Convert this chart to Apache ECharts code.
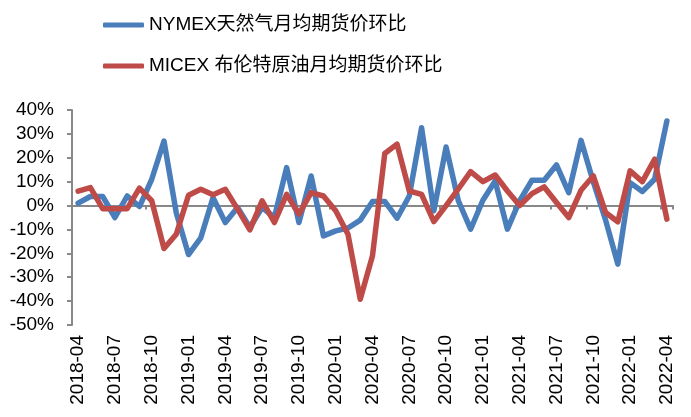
<!DOCTYPE html>
<html>
<head>
<meta charset="utf-8">
<script src="https://cdn.jsdelivr.net/npm/echarts@6/dist/echarts.min.js"></script>
<style>
  html, body { margin: 0; padding: 0; background: #fff; }
  #main { width: 691px; height: 417px; }
</style>
</head>
<body>
<div id="main"></div>
<script>
// 月份 2018-04 ~ 2022-04
var months = [
  '2018-04', '2018-05', '2018-06', '2018-07', '2018-08', '2018-09', '2018-10', '2018-11', '2018-12',
  '2019-01', '2019-02', '2019-03', '2019-04', '2019-05', '2019-06', '2019-07', '2019-08', '2019-09',
  '2019-10', '2019-11', '2019-12', '2020-01', '2020-02', '2020-03', '2020-04', '2020-05', '2020-06',
  '2020-07', '2020-08', '2020-09', '2020-10', '2020-11', '2020-12', '2021-01', '2021-02', '2021-03',
  '2021-04', '2021-05', '2021-06', '2021-07', '2021-08', '2021-09', '2021-10', '2021-11', '2021-12',
  '2022-01', '2022-02', '2022-03', '2022-04'
]

// 环比 (%)
var nymexGas = [
  1, 3.8, 3.8, -5, 4, -0.4, 11, 27, -3,
  -20.5, -13.5, 3.3, -7.1, -0.8, -9.2, -0.8, -5, 15.9,
  -7.1, 12.4, -12.7, -10.6, -9.4, -6.1, 1.7, 1.7, -5.3,
  4, 32.6, -2.2, 24.5, 2, -9.9, 2.2, 10.3, -9.9,
  2, 10.6, 10.6, 17, 5.4, 27.3, 10, -6, -24.5,
  9.6, 5.9, 11, 35.4
]
var micexBrent = [
  6, 7.5, -1.3, -1.3, -1.3, 7.3, 2, -18, -12,
  4.3, 6.8, 4.5, 6.8, -1.5, -10.2, 2, -7.1, 4.7,
  -3.6, 5.4, 4, -2.2, -12, -39.2, -21, 21.8, 25.7,
  6.1, 4.7, -6.7, 0, 7, 14.2, 10, 12.8, 6.1,
  0, 5, 7.8, 1.3, -5, 6.4, 12.4, -2.9, -6.8,
  14.5, 10, 19.4, -5.7
]

var yTicks = { min: -50, max: 40, step: 10 }

var seriesNames = ['NYMEX天然气月均期货价环比', 'MICEX 布伦特原油月均期货价环比']
var colors = ['#4A7EBB', '#BE4B48']

var axisGrey = '#888888'
var font = '"Liberation Sans", Arial, "Noto Sans CJK SC", sans-serif'

var chart = echarts.init(document.getElementById('main'))
chart.setOption({
  animation: false,
  color: colors,
  legend: {
    orient: 'vertical',
    left: 103,
    top: 12,
    padding: 0,
    itemWidth: 41,
    itemHeight: 5,
    itemGap: 15,
    icon: 'roundRect',
    textStyle: {
      fontFamily: font,
      fontSize: 19,
      lineHeight: 26,
      color: '#000'
    },
    data: seriesNames
  },
  grid: {
    left: 72,
    right: 18,
    top: 110,
    bottom: 92
  },
  xAxis: [
    {
      type: 'category',
      data: months,
      boundaryGap: true,
      axisLine: { show: false, onZero: false },
      axisTick: { show: false },
      axisLabel: {
        interval: 2,
        rotate: 90,
        margin: 10,
        fontFamily: font,
        fontSize: 19,
        color: '#000'
      }
    },
    {
      type: 'category',
      data: months,
      position: 'top',
      boundaryGap: true,
      axisLine: { show: true, onZero: true, lineStyle: { color: axisGrey, width: 2 } },
      axisTick: { show: true, inside: true, interval: 2, length: 4, lineStyle: { color: axisGrey, width: 2 } },
      axisLabel: { show: false }
    }
  ],
  yAxis: {
    type: 'value',
    min: yTicks.min,
    max: yTicks.max,
    interval: yTicks.step,
    axisLine: { show: true, lineStyle: { color: axisGrey, width: 2 } },
    axisTick: { show: true, length: 5, lineStyle: { color: axisGrey, width: 2 } },
    splitLine: { show: false },
    axisLabel: {
      margin: 18,
      fontFamily: font,
      fontSize: 19,
      color: '#000',
      formatter: '{value}%'
    }
  },
  series: [
    {
      name: seriesNames[0],
      type: 'line',
      data: nymexGas,
      showSymbol: false,
      lineStyle: { width: 5.5, join: 'round', cap: 'round' }
    },
    {
      name: seriesNames[1],
      type: 'line',
      data: micexBrent,
      showSymbol: false,
      lineStyle: { width: 5.5, join: 'round', cap: 'round' }
    }
  ]
})
</script>
</body>
</html>
